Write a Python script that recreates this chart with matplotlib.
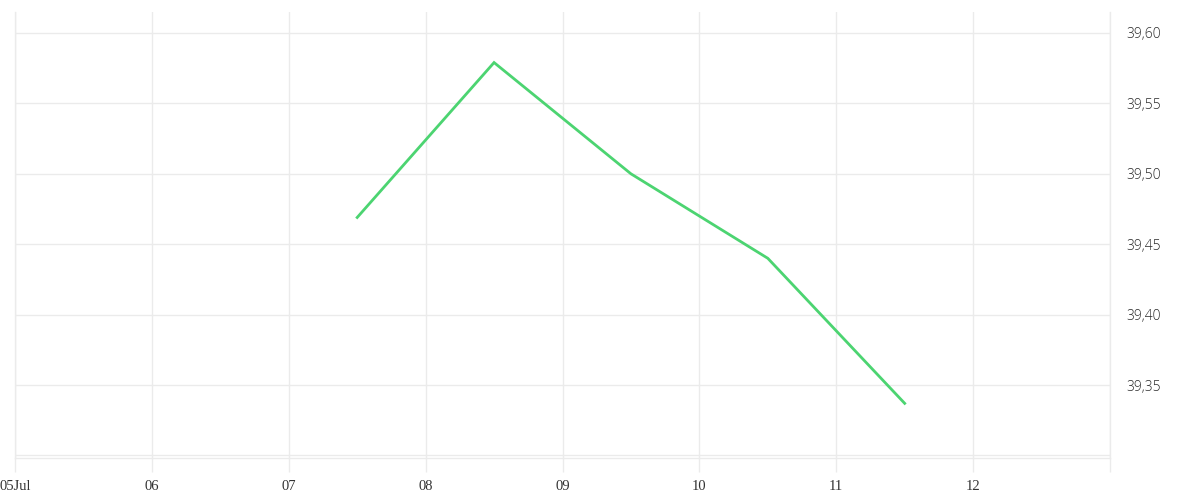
import matplotlib
matplotlib.use("Agg")
import matplotlib.pyplot as plt
import pandas as pd

dates = ["2024-07-07 12:00", "2024-07-08 12:00", "2024-07-09 12:00",
         "2024-07-10 12:00", "2024-07-11 12:00"]
values = [39.469, 39.579, 39.500, 39.440, 39.337]
x_ticks = ["2024-07-05", "2024-07-06", "2024-07-07", "2024-07-08", "2024-07-09",
           "2024-07-10", "2024-07-11", "2024-07-12", "2024-07-13"]
x_labels = ["05Jul", "06", "07", "08", "09", "10", "11", "12", ""]
y_ticks = [39.30, 39.35, 39.40, 39.45, 39.50, 39.55, 39.60]
y_labels = ["", "39,35", "39,40", "39,45", "39,50", "39,55", "39,60"]

grid_c = "#ebebeb"
fig = plt.figure(figsize=(12, 5), dpi=100)
ax = fig.add_axes([15/1200, 42/500, 1095/1200, 446/500])

xd = pd.to_datetime(dates)
ax.plot(xd, values, color="#4cd471", lw=2.0, solid_joinstyle="miter", zorder=3)

xt = pd.to_datetime(x_ticks)
ax.set_xlim(xt[0], xt[-1])
ax.set_ylim(39.2982, 39.6149)
ax.set_xticks(xt)
ax.set_xticklabels(x_labels, family="Liberation Serif", fontsize=10.5, color="#333333")
ax.set_yticks(y_ticks)
ax.set_yticklabels(y_labels, family="Open Sans", fontweight="light", fontsize=10, color="#2a2a2a")
ax.yaxis.tick_right()
ax.tick_params(axis="y", length=0, pad=12)
ax.tick_params(axis="x", length=10, width=1, color=grid_c, pad=6)
ax.grid(True, color=grid_c, lw=1)
for s in ["top"]:
    ax.spines[s].set_visible(False)
for s in ["bottom", "left", "right"]:
    ax.spines[s].set_color(grid_c)
    ax.spines[s].set_linewidth(1)

fig.savefig("out.png", dpi=100, facecolor="white")
